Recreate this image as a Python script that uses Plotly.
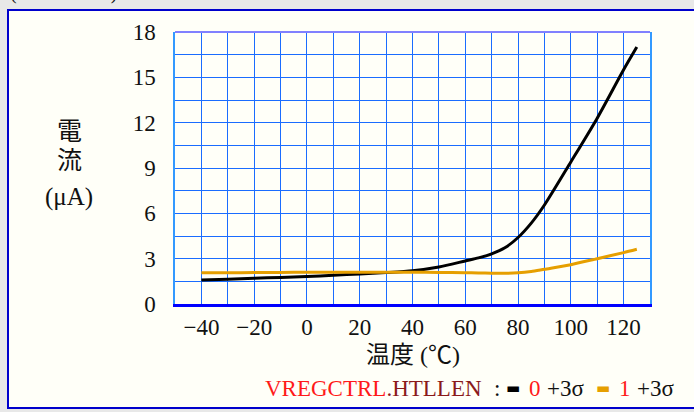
import plotly.graph_objects as go

# ---- data ----
temp = [-40, -30, -20, -10, 0, 10, 20, 30, 40, 50, 60, 65, 70, 75, 80, 85, 90, 100, 110, 120, 125]
cur_htllen0 = [1.59, 1.64, 1.70, 1.76, 1.82, 1.90, 1.99, 2.08, 2.20, 2.45, 2.85, 3.05, 3.32, 3.72, 4.40, 5.35, 6.55, 9.40, 12.3, 15.5, 17.0]
cur_htllen1 = [2.06, 2.07, 2.08, 2.09, 2.10, 2.10, 2.10, 2.10, 2.10, 2.09, 2.07, 2.05, 2.04, 2.03, 2.06, 2.15, 2.30, 2.60, 3.00, 3.40, 3.62]
x_ticks = [-40, -20, 0, 20, 40, 60, 80, 100, 120]
y_ticks = [0, 3, 6, 9, 12, 15, 18]

W, H = 694, 412
L, R, T, B = 175, 44, 32, 108
PW, PH = W - L - R, H - T - B


def px(xp):
    return (xp - L) / PW


def py(yp):
    return (H - B - yp) / PH


SERIF = "Liberation Serif, Noto Sans CJK JP, serif"
GRID = "#1a6cff"
INK = "#111111"
RED = "#ff1a1a"
C0, C1 = "#000000", "#e69f00"

fig = go.Figure()
fig.add_trace(go.Scatter(x=temp, y=cur_htllen0, mode="lines", name="0 +3σ",
                         line=dict(color=C0, width=3, shape="spline", smoothing=0.7)))
fig.add_trace(go.Scatter(x=temp, y=cur_htllen1, mode="lines", name="1 +3σ",
                         line=dict(color=C1, width=3, shape="spline", smoothing=0.7)))

fig.update_layout(
    width=W, height=H,
    margin=dict(l=L, r=R, t=T, b=B),
    paper_bgcolor="#e8e8e8",
    plot_bgcolor="#fffff8",
    showlegend=False,
    font=dict(family=SERIF, size=23, color=INK),
    xaxis=dict(range=[-50, 130], tickvals=x_ticks, ticks="", ticklen=0,
               showgrid=True, gridcolor=GRID, gridwidth=1.2,
               minor=dict(dtick=10, tick0=-50, showgrid=True, gridcolor=GRID, gridwidth=1.2),
               showline=True, linecolor="#0000ff", linewidth=3, zeroline=False,
               tickfont=dict(family=SERIF, size=23, color=INK)),
    yaxis=dict(range=[0, 18], tickvals=y_ticks, ticks="outside", ticklen=13,
               tickcolor="rgba(0,0,0,0)", showgrid=True, gridcolor=GRID, gridwidth=1.2,
               minor=dict(dtick=1.5, tick0=0, showgrid=True, gridcolor=GRID, gridwidth=1.2),
               showline=True, linecolor="#3399ff", linewidth=1.5, mirror=True, zeroline=False,
               tickfont=dict(family=SERIF, size=23, color=INK)),
)

# panel behind the chart
fig.add_shape(type="rect", xref="paper", yref="paper", layer="below",
              x0=px(8), x1=px(710), y0=py(408), y1=py(10),
              fillcolor="#fffff8", line=dict(color="#0000cc", width=2))
# top border of plot area
fig.add_shape(type="line", xref="paper", yref="paper", x0=0, x1=1, y0=1, y1=1,
              line=dict(color="#8080ff", width=2))

# clipped condition text at very top
fig.add_annotation(xref="paper", yref="paper", x=px(8), y=py(6), xanchor="left", yanchor="bottom",
                   text="(VDD=3.0V)", showarrow=False,
                   font=dict(family=SERIF, size=20, color=INK))

# y axis title (three stacked lines)
for txt, yc in [("電", 131), ("流", 160), ("(μA)", 197)]:
    fig.add_annotation(xref="paper", yref="paper", x=px(69), y=py(yc), xanchor="center", yanchor="middle",
                       text=txt, showarrow=False,
                       font=dict(family=SERIF, size=25, color=INK))

# x axis title
fig.add_annotation(xref="paper", yref="paper", x=px(413), y=py(355), xanchor="center", yanchor="middle",
                   text="温度 (℃)", showarrow=False,
                   font=dict(family=SERIF, size=24, color=INK))

# legend line, placed piece by piece
legend_parts = [
    ('<span style="color:#ff1a1a">VREGCTRL</span><span style="color:#8b1a1a">.HTLLEN</span>',
     264, SERIF, 23, INK),
    (":", 493, SERIF, 23, INK),
    ("▬", 505, "DejaVu Sans", 15, C0),
    ("0", 528, SERIF, 23, RED),
    ("+3σ", 546, SERIF, 23, INK),
    ("▬", 595, "DejaVu Sans", 15, C1),
    ("1", 618, SERIF, 23, RED),
    ("+3σ", 636, SERIF, 23, INK),
]
for txt, xl, fam, sz, col in legend_parts:
    fig.add_annotation(xref="paper", yref="paper", x=px(xl), y=py(388), xanchor="left", yanchor="middle",
                       text=txt, showarrow=False, borderpad=0,
                       font=dict(family=fam, size=sz, color=col))

fig.write_html("out.html", config={"displayModeBar": False},
               post_script="document.body.style.margin='0';document.body.style.background='#e8e8e8';")
